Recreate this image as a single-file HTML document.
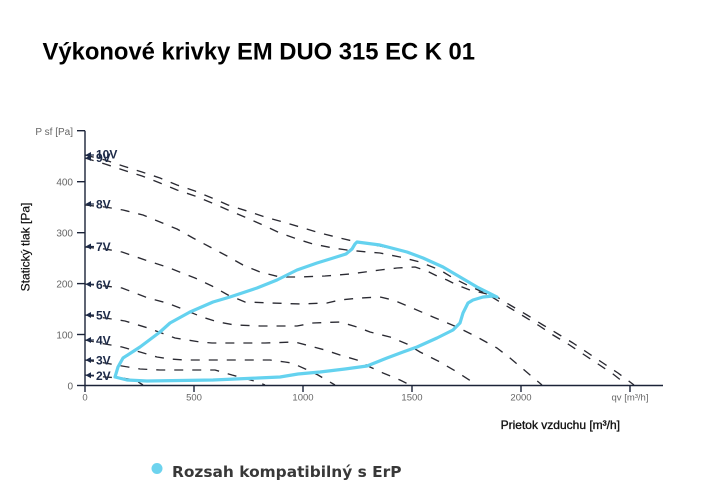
<!DOCTYPE html>
<html>
<head>
<meta charset="utf-8">
<style>
html,body{margin:0;padding:0;background:#fff;}
svg{display:block;}
</style>
</head>
<body>
<svg width="701" height="500" viewBox="0 0 701 500" xmlns="http://www.w3.org/2000/svg">
<rect x="0" y="0" width="701" height="500" fill="#ffffff"/>

<!-- Title -->
<text x="42.5" y="59.3" font-family="Liberation Sans, Arial, sans-serif" font-size="23.8" font-weight="bold" fill="#000">Výkonové krivky EM DUO 315 EC K 01</text>

<!-- Dashed fan curves -->
<g fill="none" stroke="#2a2a32" stroke-width="1.35" stroke-dasharray="9,9" stroke-linejoin="round">
  <!-- 10V -->
  <polyline points="85,155 105,160 123,166 142,172 160,178 177,185 195,191 212,198 228,205 247,211 265,217 283,222 300,227 320,233 340,238 357,242 380,246 407,252 423,258 443,267 460,277 477,287 497,297 510,305 527,315 543,325 558,334 573,343 588,353 603,363 618,373 634,385"/>
  <!-- 9V -->
  <polyline points="85,158 105,164 123,170 142,176 160,183 177,190 195,196 212,203 228,210 247,218 265,226 280,233 300,240 313,244 333,248 347,250 367,252 380,253 400,257 420,262 440,270 453,278 467,285 487,294 500,302 520,314 538,325 553,335 568,344 583,354 598,364 613,374 627,385"/>
  <!-- 8V -->
  <polyline points="85,205 105,207 123,210 143,215 160,222 177,229 193,238 210,247 227,256 243,265 260,272 280,277 300,277 325,276 350,274 380,270 397,268 415,267 427,271 437,276 447,280 457,285 470,290 487,294"/>
  <!-- 7V -->
  <polyline points="85,247 105,249 122,252 148,261 167,267 195,278 212,286 228,295 245,302 272,303 300,304 327,303 340,300 360,298 380,297 393,300 410,307 433,317 457,327 477,337 497,348 510,358 523,369 542,385"/>
  <!-- 6V -->
  <polyline points="85,284 105,286 122,288 148,298 167,303 185,310 202,317 218,322 235,325 260,326 297,326 313,323 340,322 357,327 370,332 390,337 407,344 420,352 440,362 457,372 477,385"/>
  <!-- 5V -->
  <polyline points="85,315 105,318 125,321 148,328 175,338 200,342 212,343 265,343 295,342 310,346 325,350 340,355 357,360 370,367 383,373 400,380 410,385"/>
  <!-- 4V -->
  <polyline points="85,340 105,344 122,347 140,352 157,357 170,359 185,360 240,360 270,360 285,362 292,363 312,372 318,375 335,385"/>
  <!-- 3V -->
  <polyline points="85,360 105,363 122,366 140,369 160,370 215,370 232,375 258,382 265,385"/>
  <!-- 2V -->
  <polyline points="85,375 105,377 122,378 135,380 143,385"/>
</g>

<!-- ErP compatible region -->
<polygon fill="none" stroke="#64d2ef" stroke-width="3.2" stroke-linejoin="round"
 points="497,297 477,287 460,277 443,267 423,258 407,252 380,245 357,242 355,244 352,249 346,254 330,259 317,263 297,270 277,280 257,288 230,297 213,302 190,312 170,323 160,332 140,347 123,358 118,367 115,377 127,380 147,381 213,380 258,378 280,377 298,374 320,372 345,369 367,366 387,358 403,352 417,347 437,338 453,330 460,323 463,313 468,303 473,300 483,297 493,296"/>

<!-- Axes -->
<g stroke="#1b2338" stroke-width="1.4" fill="none">
  <line x1="85" y1="130.7" x2="85" y2="386"/>
  <line x1="84.3" y1="385.5" x2="663" y2="385.5"/>
  <!-- y ticks -->
  <line x1="77" y1="130.7" x2="85" y2="130.7"/>
  <line x1="77" y1="181.7" x2="85" y2="181.7"/>
  <line x1="77" y1="232.7" x2="85" y2="232.7"/>
  <line x1="77" y1="283.6" x2="85" y2="283.6"/>
  <line x1="77" y1="334.5" x2="85" y2="334.5"/>
  <line x1="77" y1="385.5" x2="85" y2="385.5"/>
  <!-- x ticks -->
  <line x1="85" y1="385.5" x2="85" y2="392"/>
  <line x1="194" y1="385.5" x2="194" y2="392"/>
  <line x1="303" y1="385.5" x2="303" y2="392"/>
  <line x1="412" y1="385.5" x2="412" y2="392"/>
  <line x1="521" y1="385.5" x2="521" y2="392"/>
  <line x1="630" y1="385.5" x2="630" y2="392"/>
</g>

<!-- Tick labels -->
<g font-family="Liberation Sans, Arial, sans-serif" font-size="10" fill="#666">
  <text x="73" y="135" text-anchor="end">P sf [Pa]</text>
  <text x="73" y="185.5" text-anchor="end">400</text>
  <text x="73" y="236.5" text-anchor="end">300</text>
  <text x="73" y="287.4" text-anchor="end">200</text>
  <text x="73" y="338.3" text-anchor="end">100</text>
  <text x="73" y="389.3" text-anchor="end">0</text>
</g>
<g font-family="Liberation Sans, Arial, sans-serif" font-size="9.5" fill="#666">
  <text x="85" y="400.7" text-anchor="middle">0</text>
  <text x="194" y="400.7" text-anchor="middle">500</text>
  <text x="303" y="400.7" text-anchor="middle">1000</text>
  <text x="412" y="400.7" text-anchor="middle">1500</text>
  <text x="521" y="400.7" text-anchor="middle">2000</text>
  <text x="630" y="400.7" text-anchor="middle">qv [m³/h]</text>
</g>

<!-- Axis titles -->
<text x="0" y="0" transform="translate(29.5,247) rotate(-90)" text-anchor="middle" font-family="Liberation Sans, Arial, sans-serif" font-size="12" fill="#111" stroke="#111" stroke-width="0.2">Statický tlak [Pa]</text>
<text x="620" y="429" text-anchor="end" font-family="Liberation Sans, Arial, sans-serif" font-size="12" fill="#111" stroke="#111" stroke-width="0.35">Prietok vzduchu [m³/h]</text>

<!-- Voltage labels with arrows -->
<g fill="#1d2a48">
  <polygon points="85.5,155 91,152 91,158"/>
  <polygon points="85.5,158 91,155 91,161"/>
  <polygon points="85.5,204 91,201 91,207"/>
  <polygon points="85.5,246.5 91,243.5 91,249.5"/>
  <polygon points="85.5,284.3 91,281.3 91,287.3"/>
  <polygon points="85.5,315 91,312 91,318"/>
  <polygon points="85.5,340 91,337 91,343"/>
  <polygon points="85.5,360 91,357 91,363"/>
  <polygon points="85.5,375.3 91,372.3 91,378.3"/>
</g>
<g stroke="#1d2a48" stroke-width="1.2">
  <line x1="90" y1="155" x2="94" y2="155"/>
  <line x1="90" y1="204" x2="94" y2="204"/>
  <line x1="90" y1="246.5" x2="94" y2="246.5"/>
  <line x1="90" y1="284.3" x2="94" y2="284.3"/>
  <line x1="90" y1="315" x2="94" y2="315"/>
  <line x1="90" y1="340" x2="94" y2="340"/>
  <line x1="90" y1="360" x2="94" y2="360"/>
  <line x1="90" y1="375.3" x2="94" y2="375.3"/>
</g>
<g font-family="Liberation Sans, Arial, sans-serif" font-size="12" font-weight="bold" fill="#1d2a48">
  <text x="96" y="162">9V</text>
  <text x="96" y="158.7">10V</text>
  <text x="96" y="208.5">8V</text>
  <text x="96" y="251">7V</text>
  <text x="96" y="288.8">6V</text>
  <text x="96" y="319.5">5V</text>
  <text x="96" y="344.5">4V</text>
  <text x="96" y="364.5">3V</text>
  <text x="96" y="379.8">2V</text>
</g>

<!-- Legend -->
<circle cx="157" cy="468.5" r="5.5" fill="#6dd3ee"/>
<text x="172" y="477" font-family="DejaVu Sans, Liberation Sans, sans-serif" font-size="15.4" font-weight="bold" fill="#383838">Rozsah kompatibilný s ErP</text>
</svg>
</body>
</html>
